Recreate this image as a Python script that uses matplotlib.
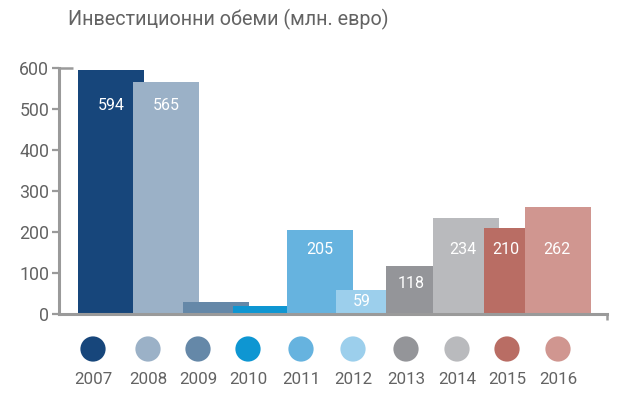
import matplotlib
matplotlib.use("Agg")
import matplotlib.pyplot as plt

# ---- data ----
years = ["2007", "2008", "2009", "2010", "2011", "2012", "2013", "2014", "2015", "2016"]
values = [594, 565, 30, 20, 205, 59, 118, 234, 210, 262]
show_label = [True, True, False, False, True, True, True, True, True, True]
colors = ["#17467b", "#9bb1c7", "#6588a8", "#0e96d2", "#66b3df",
          "#9ccfec", "#949599", "#b9babd", "#b96d64", "#d09690"]
yticks = [0, 100, 200, 300, 400, 500, 600]
title = "Инвестиционни обеми (млн. евро)"

# ---- layout (pixel units of the reference canvas) ----
bar_left = [78, 133, 183, 233, 287, 336, 386, 433, 484, 525]
bar_width = 66
dot_x = [93, 148, 198, 248, 301, 353, 406, 457, 507, 558]
label_x = [111, 166, None, None, 320, 362, 411, 463, 506, 557]
label_y = [105, 105, None, None, 249, 302, 283, 249, 249, 249]

W, H = 630, 394
fig = plt.figure(figsize=(W / 100, H / 100), dpi=100)
fam = ["Roboto", "DejaVu Sans"]
plt.rcParams["font.family"] = fam

ax_l, ax_r, ax_b, ax_t = 59, 607, 314, 68
ax = fig.add_axes([ax_l / W, (H - ax_b) / H, (ax_r - ax_l) / W, (ax_b - ax_t) / H])
ax.set_xlim(ax_l, ax_r)
ax.set_ylim(0, 600)

axis_col = "#9a9a9a"
text_col = "#636363"
tr = ax.get_xaxis_transform()


def frac(py):
    return (ax_b - py) / (ax_b - ax_t)


for i in range(len(years)):
    ax.bar(bar_left[i], values[i], width=bar_width, align="edge",
           color=colors[i], linewidth=0, zorder=2 + i * 0.01)
    if show_label[i]:
        ax.text(label_x[i], frac(label_y[i]), str(values[i]), color="white",
                fontsize=11.5, fontweight="normal", ha="center", va="center",
                transform=tr, zorder=5)

# spines
for s in ["top", "right"]:
    ax.spines[s].set_visible(False)
ax.spines["left"].set_color(axis_col)
ax.spines["left"].set_linewidth(2.2)
ax.spines["bottom"].set_color(axis_col)
ax.spines["bottom"].set_linewidth(2.2)
ax.spines["bottom"].set_zorder(10)

ax.set_yticks(yticks)
ax.set_yticklabels([str(v) for v in yticks])
ax.tick_params(axis="y", length=5, width=1.6, color=axis_col, pad=2,
               labelsize=12.8, labelcolor=text_col)
ax.set_xticks([])

# cap at 600 and end tick at right of x axis
ax.plot([0, 14 / (ax_r - ax_l)], [1, 1], transform=ax.transAxes,
        color=axis_col, lw=1.8, clip_on=False, solid_capstyle="butt")
ax.plot([1, 1], [0, -6 / (ax_b - ax_t)], transform=ax.transAxes,
        color=axis_col, lw=1.8, clip_on=False, solid_capstyle="butt")

# legend dots and year labels
ax.scatter(dot_x, [frac(349)] * len(dot_x), s=330, c=colors, transform=tr,
           clip_on=False, linewidths=0)
for i, yname in enumerate(years):
    ax.text(dot_x[i], frac(380), yname, transform=tr, ha="center", va="center",
            fontsize=12.2, fontweight="normal", color=text_col)

fig.text(68 / W, 1 - 19 / H, title, ha="left", va="center",
         fontsize=14.2, fontweight="normal", color=text_col)

fig.savefig("out.png", dpi=100)
